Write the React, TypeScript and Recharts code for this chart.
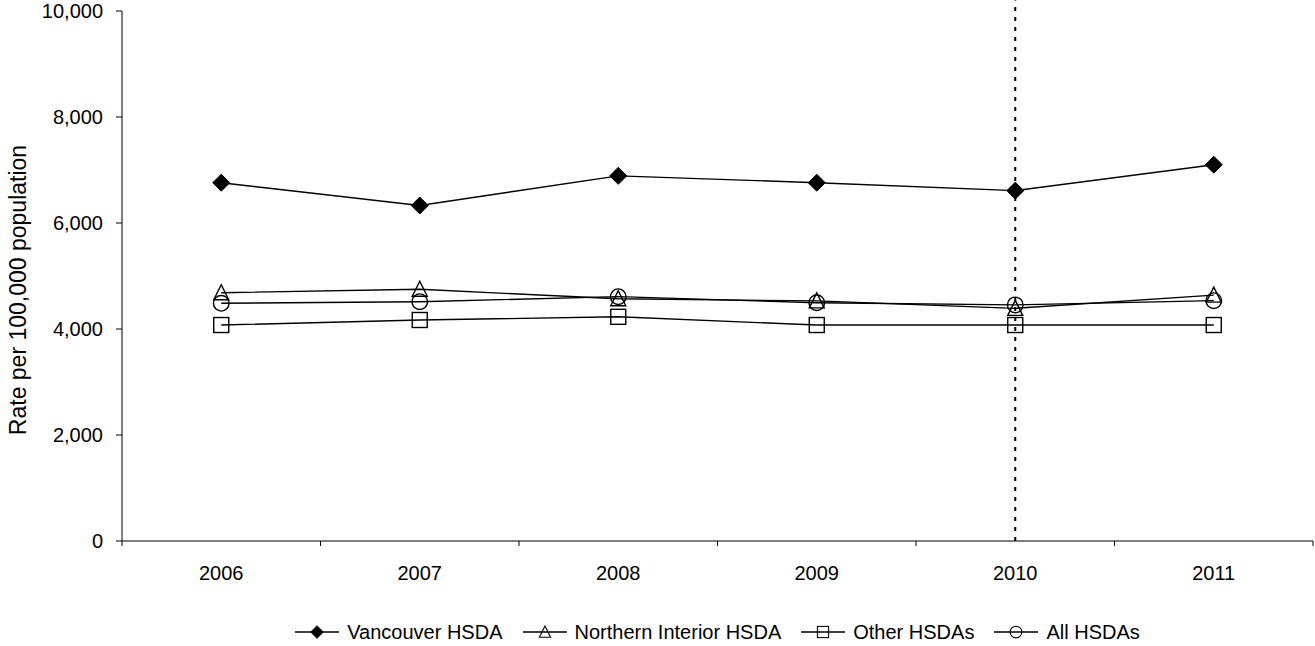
import React from 'react';
import { LineChart, Line, XAxis, YAxis, ReferenceLine } from 'recharts';

const years = ['2006', '2007', '2008', '2009', '2010', '2011'];
const vancouver = [6760, 6330, 6890, 6760, 6610, 7100];
const northernInterior = [4685, 4750, 4570, 4530, 4390, 4640];
const otherHSDAs = [4075, 4170, 4230, 4075, 4075, 4075];
const allHSDAs = [4485, 4515, 4610, 4495, 4455, 4535];
const yTicks = [0, 2000, 4000, 6000, 8000, 10000];
const seriesNames = ['Vancouver HSDA', 'Northern Interior HSDA', 'Other HSDAs', 'All HSDAs'];
const markerLine = '2010';

const data = years.map((y, i) => ({
  year: y,
  van: vancouver[i],
  ni: northernInterior[i],
  other: otherHSDAs[i],
  all: allHSDAs[i],
}));

const FONT = '"Liberation Sans", Arial, sans-serif';
const SW = 1.4;

const Diamond = ({ cx, cy }: any) => {
  const r = 8.5;
  return <polygon points={`${cx},${cy - r} ${cx + r},${cy} ${cx},${cy + r} ${cx - r},${cy}`} fill="#000" stroke="#000" strokeWidth={1} />;
};
const Triangle = ({ cx, cy }: any) => (
  <polygon points={`${cx},${cy - 8} ${cx + 7.5},${cy + 7} ${cx - 7.5},${cy + 7}`} fill="none" stroke="#000" strokeWidth={SW} />
);
const Square = ({ cx, cy }: any) => (
  <rect x={cx - 7.5} y={cy - 7.5} width={15} height={15} fill="none" stroke="#000" strokeWidth={SW} />
);
const Circle = ({ cx, cy }: any) => <circle cx={cx} cy={cy} r={7.8} fill="none" stroke="#000" strokeWidth={SW} />;

const markers = [Diamond, Triangle, Square, Circle];

const dotFn = (M: any) => (p: any) => {
  if (p.cx == null || p.cy == null) return <g key={p.index} />;
  return <g key={`d-${p.index}`}><M cx={p.cx} cy={p.cy} /></g>;
};

const XTick = (props: any) => {
  const { x, y, payload, index, visibleTicksCount, width } = props;
  let half = 0;
  if (width && visibleTicksCount) half = width / visibleTicksCount / 2;
  else if (payload && payload.offset) half = payload.offset;
  else half = (1315 - 122 - 2) / 12;
  return (
    <g>
      {index === 0 && <line x1={x - half} y1={y} x2={x - half} y2={y + 5} stroke="#000" strokeWidth={1} />}
      <line x1={x + half} y1={y} x2={x + half} y2={y + 5} stroke="#000" strokeWidth={1} />
      <text x={x} y={y + 39} textAnchor="middle" fill="#000" fontSize={20} fontFamily={FONT}>
        {payload.value}
      </text>
    </g>
  );
};

const YLabel = ({ viewBox }: any) => {
  const cx = 18;
  const cy = viewBox.y + viewBox.height / 2 + 14;
  return (
    <text x={cx} y={cy} transform={`rotate(-90, ${cx}, ${cy})`} textAnchor="middle" dominantBaseline="central" fill="#000" fontSize={23} fontFamily={FONT}>
      Rate per 100,000 population
    </text>
  );
};

const LegendRow = () => (
  <div
    style={{
      position: 'absolute',
      left: 122,
      width: 1191,
      top: 620,
      height: 24,
      display: 'flex',
      justifyContent: 'center',
      alignItems: 'center',
      fontFamily: FONT,
      fontSize: 20,
      color: '#000',
    }}
  >
    {seriesNames.map((name, i) => {
      const M = markers[i];
      return (
        <div key={name} style={{ display: 'flex', alignItems: 'center', marginRight: i < seriesNames.length - 1 ? 20 : 0 }}>
          <svg width={44} height={22} style={{ marginRight: 8 }}>
            <line x1={0} y1={11} x2={44} y2={11} stroke="#000" strokeWidth={SW} />
            <g transform="translate(22,11) scale(0.75) translate(-22,-11)">
              <M cx={22} cy={11} />
            </g>
          </svg>
          <span style={{ whiteSpace: 'nowrap', lineHeight: '22px' }}>{name}</span>
        </div>
      );
    })}
  </div>
);

export default function App() {
  return (
    <div style={{ position: 'absolute', left: 0, top: 0, width: 1315, height: 646, background: '#fff' }}>
      <LineChart width={1315} height={646} data={data} margin={{ top: 11, right: 2, left: 0, bottom: 45 }}>
        <XAxis
          dataKey="year"
          scale="band"
          height={60}
          tickSize={0}
          tickMargin={0}
          tickLine={false}
          axisLine={{ stroke: '#000', strokeWidth: 1 }}
          tick={<XTick />}
          interval={0}
        />
        <YAxis
          width={122}
          domain={[0, 10000]}
          ticks={yTicks}
          interval={0}
          tickSize={6}
          tickMargin={13}
          tickFormatter={(v: number) => v.toLocaleString('en-US')}
          tick={{ fill: '#000', fontSize: 20, fontFamily: FONT }}
          tickLine={{ stroke: '#000' }}
          axisLine={{ stroke: '#000', strokeWidth: 1 }}
          label={<YLabel />}
        />
        <ReferenceLine
          segment={[{ x: markerLine, y: 0 }, { x: markerLine, y: 10200 }]}
          stroke="#000"
          strokeWidth={2}
          strokeDasharray="4 6"
          ifOverflow="visible"
        />
        <Line dataKey="van" stroke="#000" strokeWidth={SW} dot={dotFn(Diamond)} isAnimationActive={false} />
        <Line dataKey="ni" stroke="#000" strokeWidth={SW} dot={dotFn(Triangle)} isAnimationActive={false} />
        <Line dataKey="other" stroke="#000" strokeWidth={SW} dot={dotFn(Square)} isAnimationActive={false} />
        <Line dataKey="all" stroke="#000" strokeWidth={SW} dot={dotFn(Circle)} isAnimationActive={false} />
      </LineChart>
      <LegendRow />
    </div>
  );
}
